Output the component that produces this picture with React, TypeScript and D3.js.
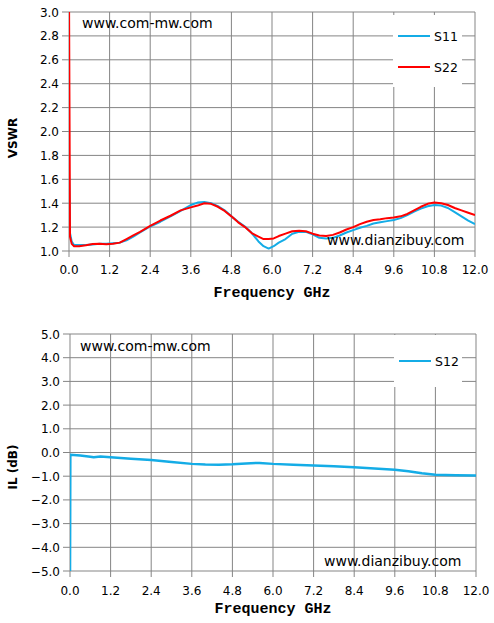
import React from "react";
import * as d3 from "d3";

const xTicks = [0, 1.2, 2.4, 3.6, 4.8, 6.0, 7.2, 8.4, 9.6, 10.8, 12.0];
const vswrTicks = [1.0, 1.2, 1.4, 1.6, 1.8, 2.0, 2.2, 2.4, 2.6, 2.8, 3.0];
const ilTicks = [-5, -4, -3, -2, -1, 0, 1, 2, 3, 4, 5];

const freqVswr = [0, 0.03, 0.08, 0.15, 0.3, 0.5, 0.7, 0.9, 1.1, 1.3, 1.5, 1.7, 1.9, 2.1, 2.4, 2.7, 3.0, 3.3, 3.6, 3.8, 4.0, 4.2, 4.4, 4.6, 4.8, 5.0, 5.2, 5.4, 5.6, 5.75, 5.9, 6.05, 6.2, 6.4, 6.6, 6.8, 7.0, 7.2, 7.4, 7.6, 7.8, 8.0, 8.2, 8.4, 8.6, 8.8, 9.0, 9.2, 9.4, 9.6, 9.8, 10.0, 10.2, 10.4, 10.6, 10.8, 11.0, 11.2, 11.4, 11.6, 11.8, 12.0];
const s11 = [1.66, 1.15, 1.08, 1.05, 1.05, 1.05, 1.055, 1.06, 1.06, 1.065, 1.07, 1.09, 1.12, 1.155, 1.205, 1.245, 1.29, 1.335, 1.385, 1.405, 1.41, 1.40, 1.375, 1.34, 1.29, 1.245, 1.205, 1.15, 1.08, 1.04, 1.02, 1.04, 1.07, 1.10, 1.145, 1.16, 1.16, 1.14, 1.11, 1.105, 1.11, 1.13, 1.155, 1.175, 1.195, 1.21, 1.23, 1.24, 1.25, 1.26, 1.275, 1.30, 1.33, 1.355, 1.375, 1.385, 1.38, 1.36, 1.325, 1.29, 1.255, 1.225];
const s22 = [3.2, 1.12, 1.06, 1.04, 1.04, 1.048, 1.058, 1.06, 1.056, 1.06, 1.07, 1.10, 1.13, 1.16, 1.21, 1.255, 1.295, 1.34, 1.365, 1.38, 1.40, 1.395, 1.37, 1.335, 1.29, 1.24, 1.20, 1.15, 1.12, 1.10, 1.10, 1.105, 1.125, 1.145, 1.165, 1.17, 1.165, 1.145, 1.13, 1.125, 1.135, 1.155, 1.18, 1.20, 1.225, 1.245, 1.26, 1.265, 1.275, 1.28, 1.29, 1.31, 1.34, 1.37, 1.395, 1.405, 1.40, 1.385, 1.36, 1.34, 1.32, 1.30];

const freqIl = [0, 0.01, 0.3, 0.6, 0.7, 0.9, 1.2, 1.8, 2.4, 3.0, 3.6, 4.0, 4.4, 4.8, 5.2, 5.6, 6.0, 6.6, 7.2, 7.8, 8.4, 9.0, 9.6, 10.0, 10.4, 10.8, 11.4, 12.0];
const s12 = [-5.5, -0.1, -0.13, -0.18, -0.2, -0.17, -0.2, -0.26, -0.32, -0.4, -0.48, -0.51, -0.52, -0.5, -0.46, -0.44, -0.48, -0.52, -0.55, -0.58, -0.62, -0.67, -0.73, -0.79, -0.88, -0.94, -0.96, -0.97];

const BLUE = "#14ace6";
const RED = "#ff0000";
const GRID = "#858585";
const FONT = "DejaVu Sans, Verdana, sans-serif";
const MONO = "Liberation Mono, Courier New, monospace";

type PanelProps = {
  id: string;
  x0: number; x1: number; yTop: number; yBot: number;
  yDomain: [number, number];
  yTicks: number[];
  series: { f: number[]; v: number[]; color: string; width: number; name: string }[];
  yLabel: string;
  yLabelY: number;
  xLabelY: number;
  xTickY: number;
  wm1: [number, number];
  wm2: [number, number];
  legend: { x: number; y: number; w: number; h: number; items: { name: string; color: string; y: number }[] };
};

function Panel(p: PanelProps) {
  const x = d3.scaleLinear().domain([0, 12]).range([p.x0, p.x1]);
  const y = d3.scaleLinear().domain(p.yDomain).range([p.yBot, p.yTop]);
  const fmt = d3.format(".1f");
  return (
    <g>
      <defs>
        <clipPath id={p.id}>
          <rect x={p.x0} y={p.yTop} width={p.x1 - p.x0} height={p.yBot - p.yTop} />
        </clipPath>
      </defs>
      {p.yTicks.map((t) => (
        <g key={"y" + t}>
          <line x1={p.x0 - 7} x2={p.x1} y1={y(t)} y2={y(t)} stroke={GRID} strokeWidth={1} />
          <text x={p.x0 - 10} y={y(t) + 4.5} textAnchor="end" fontFamily={FONT} fontSize={12} fill="#000">{fmt(t)}</text>
        </g>
      ))}
      {xTicks.map((t) => (
        <g key={"x" + t}>
          <line x1={x(t)} x2={x(t)} y1={p.yTop} y2={p.yBot + 6} stroke={GRID} strokeWidth={1} />
          <text x={x(t)} y={p.xTickY} textAnchor="middle" fontFamily={FONT} fontSize={12} fill="#000">{fmt(t)}</text>
        </g>
      ))}
      <rect x={p.legend.x} y={p.legend.y} width={p.legend.w} height={p.legend.h} fill="#fff" />
      {p.legend.items.map((it) => (
        <g key={it.name}>
          <line x1={p.legend.x + 5} x2={p.legend.x + 37} y1={it.y} y2={it.y} stroke={it.color} strokeWidth={2} />
          <text x={p.legend.x + 41} y={it.y + 4.5} fontFamily={FONT} fontSize={12.5} fill="#000">{it.name}</text>
        </g>
      ))}
      <g clipPath={`url(#${p.id})`}>
        {p.series.map((s) => {
          const pts = s.f.map((f, i) => [f, s.v[i]] as [number, number]);
          const line = d3.line<[number, number]>().x((d) => x(d[0])).y((d) => y(d[1]));
          return <path key={s.name} d={line(pts) || ""} fill="none" stroke={s.color} strokeWidth={s.width} strokeLinejoin="round" />;
        })}
      </g>
      <text x={p.wm1[0]} y={p.wm1[1]} fontFamily={FONT} fontSize={14} fill="#000">www.com-mw.com</text>
      <text x={p.wm2[0]} y={p.wm2[1]} fontFamily={FONT} fontSize={14} fill="#000">www.dianzibuy.com</text>
      <text x={(p.x0 + p.x1) / 2} y={p.xLabelY} textAnchor="middle" fontFamily={MONO} fontWeight="bold" fontSize={15} fill="#000">Frequency GHz</text>
      <text transform={`translate(17,${p.yLabelY}) rotate(-90)`} textAnchor="middle" fontFamily={FONT} fontWeight="bold" fontSize={12} fill="#000">{p.yLabel}</text>
    </g>
  );
}

export default function App() {
  return (
    <svg width={494} height={623} style={{ position: "absolute", left: 0, top: 0, background: "#fff" }}>
      <rect width={494} height={623} fill="#fff" />
      <Panel
        id="clipTop"
        x0={69} x1={475} yTop={12} yBot={251}
        yDomain={[1, 3]}
        yTicks={vswrTicks}
        series={[
          { f: freqVswr, v: s11, color: BLUE, width: 2, name: "S11" },
          { f: freqVswr, v: s22, color: RED, width: 2, name: "S22" },
        ]}
        yLabel="VSWR"
        yLabelY={138}
        xLabelY={297}
        xTickY={274}
        wm1={[82, 28]}
        wm2={[327, 245]}
        legend={{ x: 393, y: 15, w: 69, h: 72, items: [
          { name: "S11", color: BLUE, y: 36 },
          { name: "S22", color: RED, y: 67 },
        ] }}
      />
      <Panel
        id="clipBot"
        x0={70} x1={476} yTop={334} yBot={571}
        yDomain={[-5, 5]}
        yTicks={ilTicks}
        series={[{ f: freqIl, v: s12, color: BLUE, width: 2.5, name: "S12" }]}
        yLabel="IL (dB)"
        yLabelY={467}
        xLabelY={613}
        xTickY={595}
        wm1={[80, 351]}
        wm2={[324, 566]}
        legend={{ x: 394, y: 335, w: 68, h: 52, items: [{ name: "S12", color: BLUE, y: 361 }] }}
      />
    </svg>
  );
}
